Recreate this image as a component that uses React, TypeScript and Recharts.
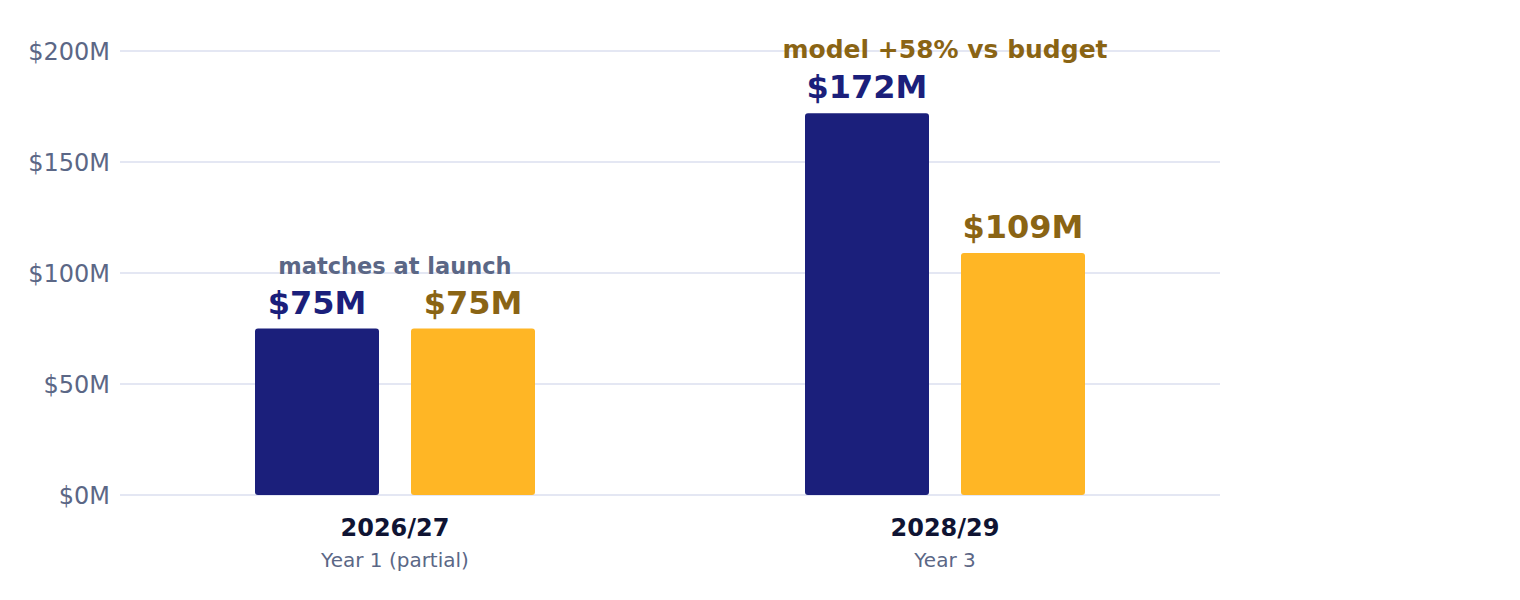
import { Bar, BarChart, CartesianGrid, LabelList, XAxis, YAxis } from "recharts";

const periods = ["2026/27", "2028/29"];
const periodNotes = ["Year 1 (partial)", "Year 3"];
const modelValues = [75, 172];
const budgetValues = [75, 109];
const notes = ["matches at launch", "model +58% vs budget"];
const yTicks = [0, 50, 100, 150, 200];

const NAVY = "#1b1f7b";
const AMBER = "#ffb625";
const GOLD = "#8a6414";
const SLATE = "#5b6786";
const INK = "#0f1433";
const FONT = "'DejaVu Sans', sans-serif";

const data = periods.map((p, i) => ({
  period: p,
  note: periodNotes[i],
  model: modelValues[i],
  budget: budgetValues[i],
}));

function PeriodTick({ x, y, payload, index }: any) {
  return (
    <g>
      <text x={x} y={y + 33} textAnchor="middle" fontFamily={FONT} fontSize={24} fontWeight="bold" fill={INK}>
        {payload.value}
      </text>
      <text x={x} y={y + 64} textAnchor="middle" fontFamily={FONT} fontSize={20} fill={SLATE}>
        {periodNotes[index]}
      </text>
    </g>
  );
}

function valueLabel(color: string, withNote: boolean) {
  return (props: any) => {
    const { x, y, width, value, index } = props;
    const cx = x + width / 2;
    return (
      <g>
        <text x={cx} y={y - 15} textAnchor="middle" fontFamily={FONT} fontSize={32} fontWeight="bold" fill={color}>
          {`$${value}M`}
        </text>
        {withNote && (
          <text
            x={x + width + 16}
            y={y - 55}
            textAnchor="middle"
            fontFamily={FONT}
            fontSize={index === 0 ? 22.5 : 25}
            fontWeight="bold"
            fill={index === 0 ? SLATE : GOLD}
          >
            {notes[index]}
          </text>
        )}
      </g>
    );
  };
}

export default function App() {
  return (
    <div style={{ position: "absolute", left: 0, top: 0, background: "#fff" }}>
      <BarChart
        width={1520}
        height={600}
        data={data}
        margin={{ top: 51, right: 300, bottom: 25, left: 0 }}
        barSize={124}
        barGap={32}
      >
        <CartesianGrid vertical={false} stroke="#e4e7f3" strokeWidth={2} />
        <XAxis dataKey="period" axisLine={false} tickLine={false} height={80} tick={<PeriodTick />} interval={0} />
        <YAxis
          domain={[0, 200]}
          ticks={yTicks}
          width={120}
          axisLine={false}
          tickLine={false}
          tickMargin={4}
          tickFormatter={(v) => `$${v}M`}
          tick={{ fill: SLATE, fontSize: 24, fontFamily: FONT }}
        />
        <Bar dataKey="model" fill={NAVY} radius={3} isAnimationActive={false}>
          <LabelList dataKey="model" content={valueLabel(NAVY, true)} />
        </Bar>
        <Bar dataKey="budget" fill={AMBER} radius={3} isAnimationActive={false}>
          <LabelList dataKey="budget" content={valueLabel(GOLD, false)} />
        </Bar>
      </BarChart>
    </div>
  );
}
